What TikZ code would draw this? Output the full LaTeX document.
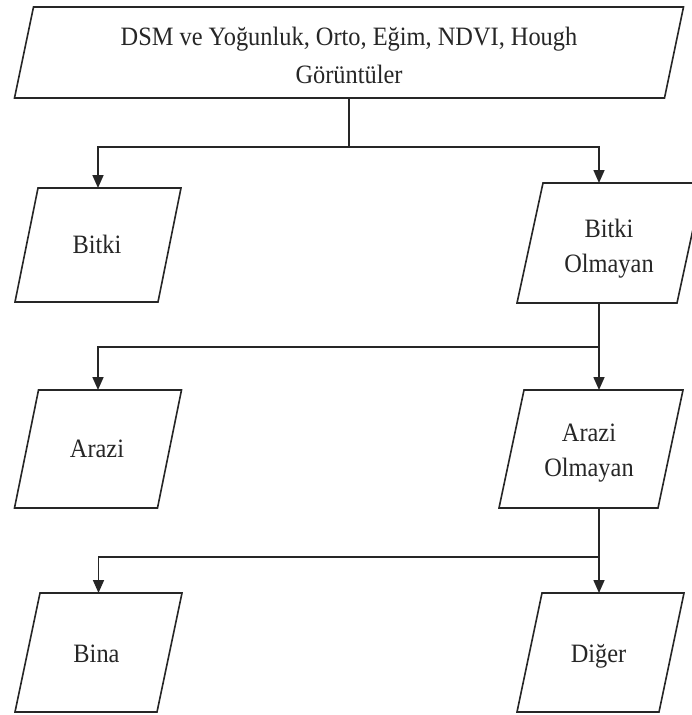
\documentclass[tikz,border=0pt]{standalone}
\usepackage{fontspec}
\setmainfont{Liberation Serif}
\usetikzlibrary{arrows.meta}
\definecolor{ink}{HTML}{262626}
\tikzset{
  frame/.style={draw=none, inner sep=0pt, outer sep=0pt},
  boxline/.style={draw=ink, line width=1.6pt, line join=miter},
  txt/.style={text=ink, align=center, inner sep=0pt, xscale=0.92,
    font=\fontsize{26.5}{35}\selectfont},
  link/.style={draw=ink, line width=1.6pt},
  arrow/.style={link, -{Triangle[length=13pt,width=11pt]}},
}
% #1 name, #2 centre x, #3 centre y, #4 width, #5 height, #6 slant (bottom edge shifted left)
\newcommand\parabox[6]{%
  \node[frame, minimum width=#4pt, minimum height=#5pt] (#1) at (#2,#3) {};
  \draw[boxline] ([xshift=#6pt/2]#1.north west) -- ([xshift=#6pt/2]#1.north east)
    -- ([xshift=-#6pt/2]#1.south east) -- ([xshift=-#6pt/2]#1.south west) -- cycle;}
\begin{document}
\begin{tikzpicture}[x=1pt, y=-1pt]
  \useasboundingbox (0,0) rectangle (692,715);
  \fill[white] (0,0) rectangle (692,715);
  \clip (0,0) rectangle (692,715);

  % boxes
  \parabox{top}{349}{52.5}{650}{91}{19}
  \parabox{bitki}{98}{245}{143}{114}{23}
  \parabox{bo}{610}{243}{160}{120}{26}
  \parabox{arazi}{98}{449}{143}{118}{24}
  \parabox{ao}{591}{449}{159}{118}{25}
  \parabox{bina}{98.5}{652.5}{142}{119}{25}
  \parabox{diger}{600.5}{652.5}{142}{119}{25}

  % texts
  \node[txt, font=\fontsize{26.5}{38}\selectfont] (top-t) at ([yshift=-2.5pt]top.center)
    {DSM ve Yoğunluk, Orto, Eğim, NDVI, Hough\\Görüntüler};
  \node[txt] (bitki-t) at ([xshift=-1pt, yshift=0.5pt]bitki.center) {Bitki};
  \node[txt] (bo-t) at ([xshift=-1pt, yshift=-5.3pt]bo.center) {Bitki\\Olmayan};
  \node[txt] (arazi-t) at ([xshift=-1pt]arazi.center) {Arazi};
  \node[txt] (ao-t) at ([xshift=-2pt, yshift=-3.8pt]ao.center) {Arazi\\Olmayan};
  \node[txt] (bina-t) at ([xshift=-2pt, yshift=-1.5pt]bina.center) {Bina};
  \node[txt] (diger-t) at ([xshift=-2pt, yshift=-4.3pt]diger.center) {Diğer};

  % branch points
  \coordinate (r1) at (599,147);
  \coordinate (r2) at (599,347);
  \coordinate (r3) at (599,557);

  % connectors
  \draw[link] (top.south) -- (top.south |- r1);
  \draw[arrow] (top.south |- r1) -| (bitki.north);
  \draw[arrow] (top.south |- r1) -- (r1) -- (r1 |- bo.north);

  \draw[arrow] (r2 |- bo.south) -- (r2 |- ao.north);
  \draw[arrow] (r2) -| (arazi.north);

  \draw[arrow] (r3 |- ao.south) -- (r3 |- diger.north);
  \draw[arrow] (r3) -| (bina.north);
\end{tikzpicture}
\end{document}
